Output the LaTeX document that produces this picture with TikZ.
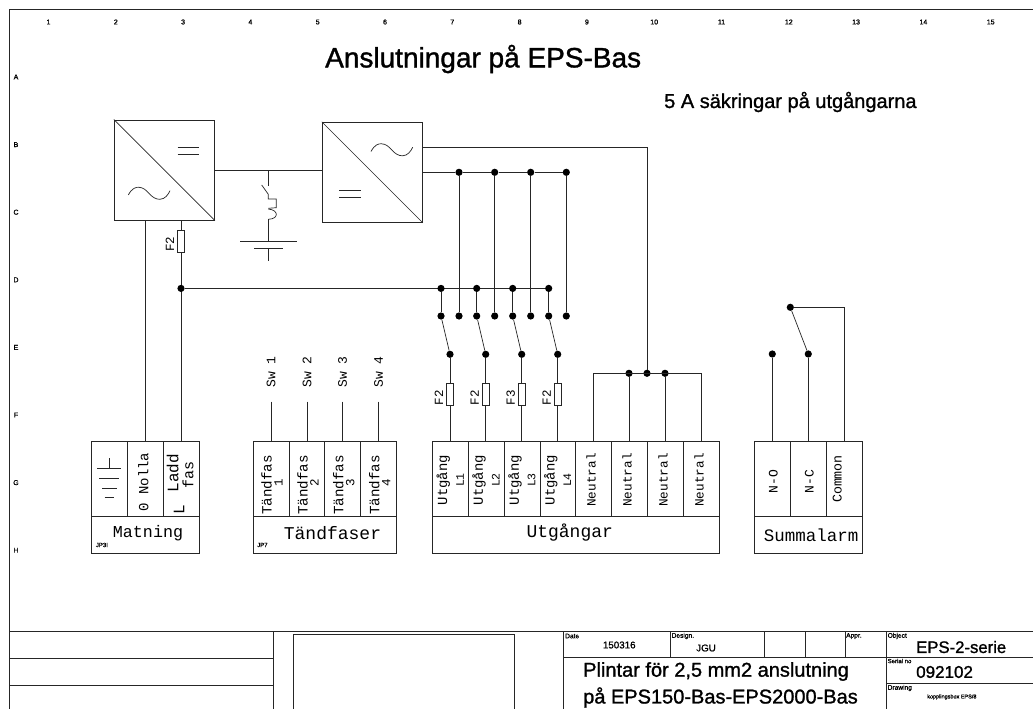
\documentclass[tikz,border=0pt]{standalone}
\usepackage{fontspec}
\setmainfont{Liberation Sans}
\newfontfamily\cadfont{Liberation Mono}
\newfontfamily\arialb[FakeBold=1.2]{Liberation Sans}
\newcommand{\cadsz}[1]{\cadfont\fontsize{#1}{#1}\selectfont}
\newcommand{\ariasz}[1]{\arialb\fontsize{#1}{#1}\selectfont}
\tikzset{
  wire/.style={line width=0.95pt,black!85},
  thinw/.style={line width=0.7pt,black!85},
  dotmark/.style={circle,fill=black,inner sep=0pt,minimum size=7.2pt},
  cadtxt/.style={inner sep=0pt},
  ruler/.style={font=\ariasz{7},inner sep=0pt},
  tiny/.style={font=\ariasz{6.6},inner sep=0pt,anchor=west},
  arial/.style={inner sep=0pt,anchor=west},
}
\newcommand{\fuse}[3]{% x, ycentre, label
  \draw[thinw,fill=white] (#1-3.7,#2-11.3) rectangle (#1+3.7,#2+11.3);
  \node[cadtxt,font=\cadsz{12.5},rotate=90] at (#1-11,#2+3) {#3};}
\newcommand{\sinewave}[2]{%
  \begin{scope}[shift={(#1,#2)}]
  \draw[thinw] (0,0) .. controls (3.7,-7) and (7.7,-8) .. (10.7,-7.7) .. controls (14.7,-7.5) and (17.7,-5) .. (20.7,-1.7)
    .. controls (23.7,2) and (27.7,4.5) .. (31.7,4.3) .. controls (36.7,4) and (39.7,0) .. (41.7,-4.3);
  \end{scope}}
\begin{document}
\begin{tikzpicture}[x=1pt,y=-1pt]
\useasboundingbox (0,0) rectangle (1033,709);
\fill[white] (0,0) rectangle (1033,709);
% frame
\draw[wire] (9.5,709) -- (9.5,9.5) -- (1033,9.5);
% rulers
\foreach \n [count=\i from 0] in {1,...,15} \node[ruler] at ({48.5+67.3*\i},22) {\n};
\foreach \n [count=\i from 0] in {A,B,C,D,E,F,G,H} \node[ruler] at (16,{77+67.6*\i}) {\n};
% titles
\node[arial,font=\ariasz{28}] (title) at (325,59) {Anslutningar på EPS-Bas};
\node[arial,font=\ariasz{20}] (sub) at (664,102) {5 A säkringar på utgångarna};
% converters
\node[draw,wire,minimum size=100pt,inner sep=0pt] (c1) at (164.3,170) {};
\draw[thinw] (c1.north west) -- (c1.south east);
\draw[thinw] (177.7,147.3) -- (199,147.3) (177.7,154) -- (199,154);
\sinewave{128.3}{195}
\node[draw,wire,minimum size=100pt,inner sep=0pt] (c2) at (372.3,172.3) {};
\draw[thinw] (c2.north west) -- (c2.south east);
\draw[thinw] (339.3,190.7) -- (361,190.7) (339.3,197.7) -- (361,197.7);
\sinewave{371}{151.5}
% dc link + battery branch
\coordinate (j1) at (268.3,170);
\draw[wire] (c1.east) -- (c2.west |- c1.east);
\draw[wire] (j1) -- (268.3,185.7);
\draw[thinw] (261.7,185) -- (268.3,194.3) -- (268.3,199) -- (276.3,199) -- (276.3,207.7) -- (268.3,208.3);
\draw[thinw] (268.3,209) .. controls (279,210) and (279,219) .. (268.3,219.3);
\draw[wire] (268.3,219.3) -- (268.3,241);
\draw[wire] (240,241) -- (296.7,241);
\draw[thinw] (254.3,248.3) -- (282.7,248.3) (268.3,248.3) -- (268.3,260.6);
% supply
\draw[wire] (145.3,220) -- (145.3,441.7);
\draw[wire] (181,220) -- (181,441.7);
\fuse{181}{241.3}{F2}
\node[dotmark] (jd) at (181,288.4) {};
\draw[wire] (jd) -- (548.7,288.4);
% output rail
\foreach \x/\n in {459/a,494.7/b,530.7/c,566.3/d} {
  \node[dotmark] (t\n) at (\x,172.3) {};
  \node[dotmark] (u\n) at (\x,316) {};
  \draw[wire] (t\n) -- (u\n);
}
\draw[wire] (422.3,172.3) -- (ta) -- (tb) -- (tc) -- (td);
\foreach \x/\l [count=\i] in {441/F2,476.7/F2,512.7/F3,548.7/F2} {
  \node[dotmark] (p\i) at (\x,288.4) {};
  \node[dotmark] (q\i) at (\x,316) {};
  \node[dotmark] (r\i) at (\x+9,354.3) {};
  \draw[wire] (p\i) -- (q\i);
  \draw[thinw] (q\i) -- (r\i);
  \draw[wire] (r\i) -- (\x+9,441.5);
  \fuse{\x+9}{394.5}{\l}
}
% neutral
\node[dotmark] (n1) at (629,373.3) {};
\node[dotmark] (n2) at (647,373.3) {};
\node[dotmark] (n3) at (665,373.3) {};
\draw[wire] (593,441.5) -- (593,373.3) -- (701,373.3) -- (701,441.5);
\draw[wire] (n1) -- (629,441.5);
\draw[wire] (n3) -- (665,441.5);
\draw[wire] (n2) -- (647,147) -- (422.3,147);
% Matning
\draw[wire] (91.7,441.7) rectangle (199,553.3);
\draw[wire] (91.7,516) -- (199,516) (127.3,441.7) -- (127.3,516) (163,441.7) -- (163,516);
\draw[thinw] (109.3,458) -- (109.3,468.7) (97,468.7) -- (121.3,468.7) (99.3,478.3) -- (119.3,478.3) (102,488.3) -- (116.7,488.3) (104.7,497.7) -- (114,497.7);
\node[cadtxt,font=\cadsz{14},rotate=90] at (143.3,482) {0 Nolla};
\node[cadtxt,font=\cadsz{16},rotate=90] at (172.7,473) {Ladd};
\node[cadtxt,font=\cadsz{15},rotate=90] at (188,475) {fas};
\node[cadtxt,font=\cadsz{16},rotate=90] at (179,510) {L};
\node[cadtxt,font=\cadsz{16.7}] at (148,533) {Matning};
\node[tiny,font=\ariasz{6}] at (95.7,545) {JP3I};
% Tandfaser
\draw[wire] (253,441.7) rectangle (396.7,553.3);
\draw[wire] (253,516) -- (396.7,516) (289,441.7) -- (289,516) (324.7,441.7) -- (324.7,516) (360.7,441.7) -- (360.7,516);
\foreach \x/\n [count=\i] in {271/1,307/2,342.7/3,378.7/4} {
  \coordinate (s\i) at (\x,401.7);
  \draw[wire] (s\i) -- (\x,441.7);
  \node[cadtxt,font=\cadsz{13},rotate=90] at (\x,372) {Sw \n};
  \node[cadtxt,font=\cadsz{14.2},rotate=90] at (\x-4.5,485) {Tändfas};
  \node[cadtxt,font=\cadsz{12.5},rotate=90] at (\x+7.5,482.5) {\n};
}
\node[cadtxt,font=\cadsz{18}] at (332.5,533) {Tändfaser};
\node[tiny,font=\ariasz{6}] at (257,545) {JP7};
% Utgangar
\draw[wire] (432.3,441.5) rectangle (719,553);
\draw[wire] (432.3,516) -- (719,516);
\foreach \x in {468.3,504,540,575.7,611.7,647.7,683.3} \draw[wire] (\x,441.5) -- (\x,516);
\foreach \x/\n in {450/1,485.7/2,521.7/3,557.3/4} {
  \node[cadtxt,font=\cadsz{13.9},rotate=90] at (\x-6.6,480) {Utgång};
  \node[cadtxt,font=\cadsz{11.5},rotate=90] at (\x+10,480) {L\n};
}
\foreach \x in {593,629,665,701} \node[cadtxt,font=\cadsz{12.7},rotate=90] at (\x-2,480) {Neutral};
\node[cadtxt,font=\cadsz{18}] at (569.7,533) {Utgångar};
% Summalarm
\draw[wire] (754.7,441.7) rectangle (862.3,553.3);
\draw[wire] (754.7,516) -- (862.3,516) (790.7,441.7) -- (790.7,516) (826.7,441.7) -- (826.7,516);
\node[dotmark] (a1) at (772.3,354) {};
\node[dotmark] (a2) at (808.3,354) {};
\node[dotmark] (a3) at (790.3,307.3) {};
\draw[wire] (a1) -- (772.3,441.7);
\draw[wire] (a2) -- (808.3,441.7);
\draw[thinw] (a3) -- (a2);
\draw[wire] (a3) -- (844,307.3) -- (844,441.7);
\node[cadtxt,font=\cadsz{13},rotate=90] at (773.3,481.7) {N-O};
\node[cadtxt,font=\cadsz{13},rotate=90] at (809.3,481.7) {N-C};
\node[cadtxt,font=\cadsz{13.3},rotate=90] at (837.3,479) {Common};
\node[cadtxt,font=\cadsz{17.5}] at (811,535) {Summalarm};
% title block
\draw[wire] (9.5,631.7) -- (1033,631.7);
\draw[wire] (9.5,658.3) -- (273.3,658.3) (9.5,685) -- (273.3,685) (273.3,631.7) -- (273.3,709);
\draw[wire] (293.7,709) -- (293.7,634.3) -- (514.3,634.3) -- (514.3,709);
\draw[wire] (563.3,631.7) -- (563.3,709) (886.7,631.7) -- (886.7,709);
\draw[wire] (670.7,631.7) -- (670.7,657.3) (764,631.7) -- (764,657.3) (805.7,631.7) -- (805.7,657.3) (845.3,631.7) -- (845.3,657.3);
\draw[wire] (563.3,657.3) -- (1033,657.3) (886.7,683.3) -- (1033,683.3);
\node[tiny] at (565,636) {Date};
\node[arial,font=\ariasz{9.8}] at (602.7,645) {150316};
\node[tiny] at (671.5,636) {Design.};
\node[arial,font=\ariasz{9.8}] at (696,648) {JGU};
\node[tiny] at (846,636) {Appr.};
\node[tiny] at (887.5,636) {Object};
\node[arial,font=\ariasz{16.7}] at (916,647) {EPS-2-serie};
\node[tiny,font=\ariasz{6}] at (887.5,661) {Serial no};
\node[arial,font=\ariasz{17}] at (916,672) {092102};
\node[tiny] at (887.5,688) {Drawing};
\node[arial,font=\ariasz{5.5}] at (927,697) {kopplingsbox EPS/8};
\node[arial,font=\ariasz{20}] at (583,671.5) {Plintar för 2,5 mm2 anslutning};
\node[arial,font=\ariasz{20}] at (583,697.5) {på EPS150-Bas-EPS2000-Bas};
\end{tikzpicture}
\end{document}
